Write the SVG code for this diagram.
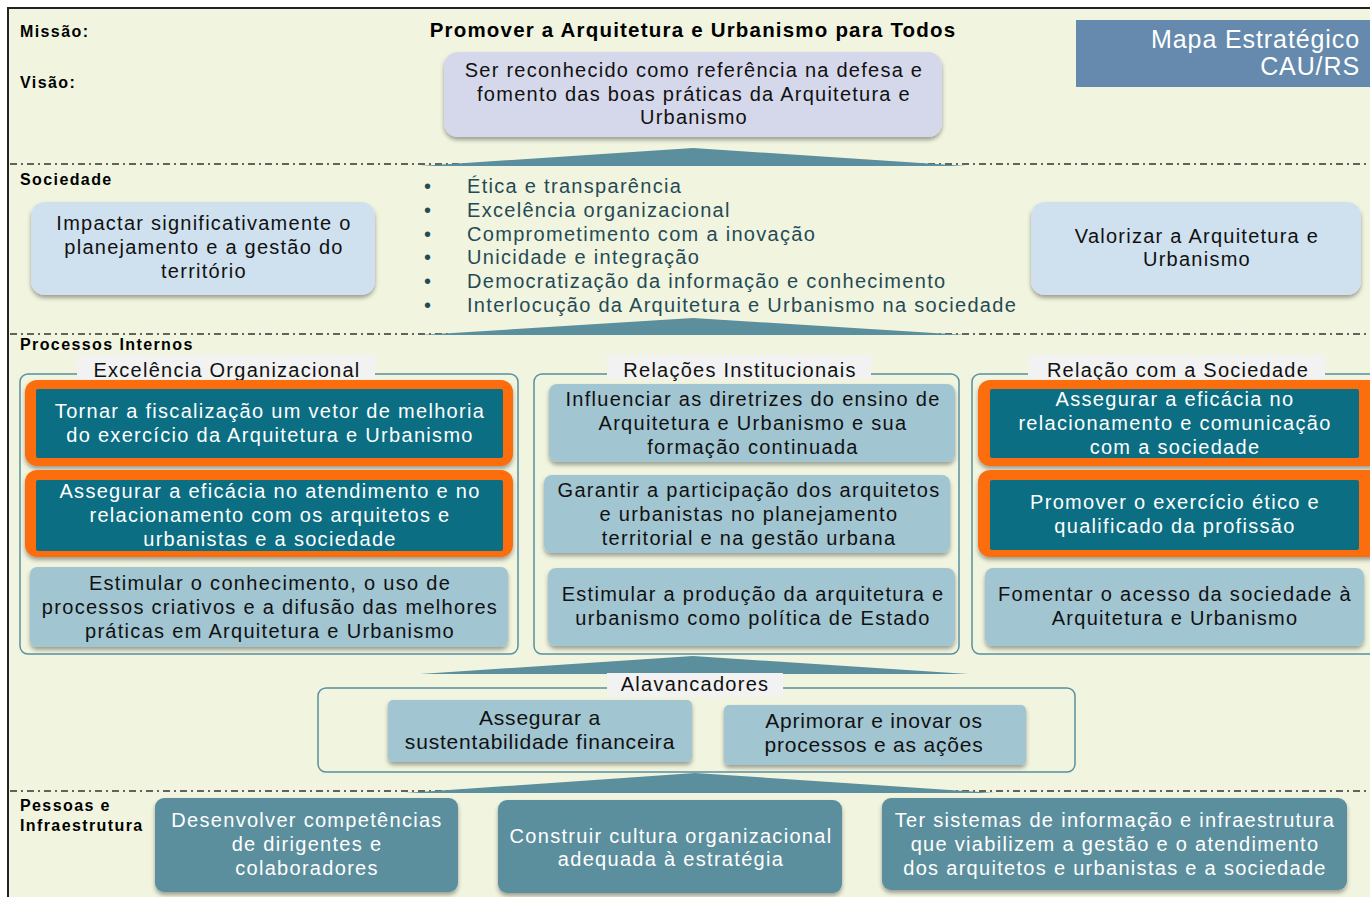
<svg xmlns="http://www.w3.org/2000/svg" width="1370" height="897" viewBox="0 0 1370 897">
<defs>
<filter id="sh" x="-10%" y="-20%" width="120%" height="150%">
<feDropShadow dx="0" dy="3" stdDeviation="2" flood-color="#000" flood-opacity="0.35"/>
</filter>
<style>
text{font-family:"Liberation Sans",Arial,sans-serif;}
.lbl{font-size:16px;font-weight:bold;fill:#000;letter-spacing:1.4px;}
.t{font-size:20px;fill:#111;text-anchor:middle;letter-spacing:1.25px;}
.tw{font-size:20px;fill:#fff;text-anchor:middle;letter-spacing:1.3px;}
.tb{font-size:20px;fill:#111;text-anchor:middle;letter-spacing:1.3px;}
.ta{font-size:21px;fill:#111;text-anchor:middle;letter-spacing:0.8px;}
.bul{font-size:20px;fill:#264a55;letter-spacing:1.3px;}
.sep{stroke:#333;stroke-width:1.6;stroke-dasharray:7 4 2 4;fill:none;}
.frame{fill:none;stroke:#5a8f9f;stroke-width:1.5;}
.tag{fill:#f2f2f2;}
.light{fill:#a1c5d1;}
.sky{fill:#cfe0ef;}
.orange{fill:#fb6d0c;}
.dark{fill:#0b6e83;}
.mid{fill:#5b8f9e;}
.tri{fill:#5b8f9e;}
</style>
</defs>
<rect x="0" y="0" width="1370" height="897" fill="#fff"/>
<rect x="8" y="8" width="1362" height="889" fill="#f1f5df"/>
<path d="M8 897 V8 H1370" fill="none" stroke="#222" stroke-width="2"/>

<g id="separators">
<line class="sep" x1="10" y1="164" x2="1370" y2="164"/>
<line class="sep" x1="10" y1="334" x2="1370" y2="334"/>
<line class="sep" x1="10" y1="791" x2="1370" y2="791"/>
</g>

<g id="connectors">
<polygon class="tri" points="420,166 693,148 966,166"/>
<polygon class="tri" points="420,335 693,318 966,335"/>
<polygon class="tri" points="420,674 693,656 968,674"/>
<polygon class="tri" points="405,793 695,773 995,793"/>
</g>

<g id="labels">
<text class="lbl" x="20" y="37">Missão:</text>
<text class="lbl" x="20" y="88">Visão:</text>
<text class="lbl" x="20" y="185">Sociedade</text>
<text class="lbl" x="20" y="350">Processos Internos</text>
<text class="lbl" x="20" y="811">Pessoas e</text>
<text class="lbl" x="20" y="831">Infraestrutura</text>
</g>

<g id="missao">
<text x="693" y="37" style="font-size:20.5px;font-weight:bold;text-anchor:middle;fill:#000;letter-spacing:1.2px">Promover a Arquitetura e Urbanismo para Todos</text>
</g>

<g id="titulo">
<rect x="1076" y="20" width="294" height="67" fill="#658aad"/>
<text x="1360" y="48" style="font-size:25px;fill:#fff;text-anchor:end;letter-spacing:0.9px">Mapa Estratégico</text>
<text x="1360" y="75" style="font-size:25px;fill:#fff;text-anchor:end;letter-spacing:0.9px">CAU/RS</text>
</g>

<g id="visao">
<rect x="444" y="52" width="498" height="85" rx="14" fill="#d5d8ea" filter="url(#sh)"/>
<text class="t" x="694" y="77">Ser reconhecido como referência na defesa e</text>
<text class="t" x="694" y="101">fomento das boas práticas da Arquitetura e</text>
<text class="t" x="694" y="124">Urbanismo</text>
</g>

<g id="impactar">
<rect x="31" y="202" width="344" height="93" rx="14" class="sky" filter="url(#sh)"/>
<text class="t" x="204" y="230">Impactar significativamente o</text>
<text class="t" x="204" y="254">planejamento e a gestão do</text>
<text class="t" x="204" y="278">território</text>
</g>

<g id="valores">
<text class="bul" x="424" y="193">•</text><text class="bul" x="467" y="193">Ética e transparência</text>
<text class="bul" x="424" y="217">•</text><text class="bul" x="467" y="217">Excelência organizacional</text>
<text class="bul" x="424" y="241">•</text><text class="bul" x="467" y="241">Comprometimento com a inovação</text>
<text class="bul" x="424" y="264">•</text><text class="bul" x="467" y="264">Unicidade e integração</text>
<text class="bul" x="424" y="288">•</text><text class="bul" x="467" y="288">Democratização da informação e conhecimento</text>
<text class="bul" x="424" y="312">•</text><text class="bul" x="467" y="312">Interlocução da Arquitetura e Urbanismo na sociedade</text>
</g>

<g id="valorizar">
<rect x="1031" y="202" width="330" height="93" rx="14" class="sky" filter="url(#sh)"/>
<text class="t" x="1197" y="243">Valorizar a Arquitetura e</text>
<text class="t" x="1197" y="266">Urbanismo</text>
</g>

<g id="excelencia">
<rect class="frame" x="20" y="374" width="498" height="280" rx="8"/>
<rect class="tag" x="77" y="355" width="298" height="24"/>
<text class="t" x="227" y="377">Excelência Organizacional</text>
</g>
<g id="fiscalizacao">
<rect class="orange" x="25" y="380" width="488" height="86" rx="12" filter="url(#sh)"/>
<rect class="dark" x="36" y="389" width="467" height="69" rx="2"/>
<text class="tw" x="270" y="418">Tornar a fiscalização um vetor de melhoria</text>
<text class="tw" x="270" y="442">do exercício da Arquitetura e Urbanismo</text>
</g>
<g id="atendimento">
<rect class="orange" x="25" y="470" width="488" height="87" rx="12" filter="url(#sh)"/>
<rect class="dark" x="36" y="480" width="467" height="71" rx="2"/>
<text class="tw" x="270" y="498">Assegurar a eficácia no atendimento e no</text>
<text class="tw" x="270" y="522">relacionamento com os arquitetos e</text>
<text class="tw" x="270" y="546">urbanistas e a sociedade</text>
</g>
<g id="conhecimento">
<rect class="light" x="30" y="567" width="478" height="80" rx="7" filter="url(#sh)"/>
<text class="tb" x="270" y="590">Estimular o conhecimento, o uso de</text>
<text class="tb" x="270" y="614">processos criativos e a difusão das melhores</text>
<text class="tb" x="270" y="638">práticas em Arquitetura e Urbanismo</text>
</g>

<g id="relacoes">
<rect class="frame" x="534" y="374" width="425" height="280" rx="8"/>
<rect class="tag" x="607" y="355" width="264" height="24"/>
<text class="t" x="740" y="377">Relações Institucionais</text>
</g>
<g id="ensino">
<rect class="light" x="549" y="384" width="406" height="78" rx="8" filter="url(#sh)"/>
<text class="tb" x="753" y="406">Influenciar as diretrizes do ensino de</text>
<text class="tb" x="753" y="430">Arquitetura e Urbanismo e sua</text>
<text class="tb" x="753" y="454">formação continuada</text>
</g>
<g id="participacao">
<rect class="light" x="544" y="475" width="406" height="78" rx="8" filter="url(#sh)"/>
<text class="tb" x="749" y="497">Garantir a participação dos arquitetos</text>
<text class="tb" x="749" y="521">e urbanistas no planejamento</text>
<text class="tb" x="749" y="545">territorial e na gestão urbana</text>
</g>
<g id="producao">
<rect class="light" x="548" y="568" width="407" height="78" rx="8" filter="url(#sh)"/>
<text class="tb" x="753" y="601">Estimular a produção da arquitetura e</text>
<text class="tb" x="753" y="625">urbanismo como política de Estado</text>
</g>

<g id="sociedade-grupo">
<rect class="frame" x="972" y="374" width="410" height="280" rx="8"/>
<rect class="tag" x="1028" y="355" width="297" height="24"/>
<text class="t" x="1178" y="377">Relação com a Sociedade</text>
</g>
<g id="comunicacao">
<rect class="orange" x="978" y="380" width="404" height="86" rx="12" filter="url(#sh)"/>
<rect class="dark" x="990" y="389" width="369" height="69" rx="2"/>
<text class="tw" x="1175" y="406">Assegurar a eficácia no</text>
<text class="tw" x="1175" y="430">relacionamento e comunicação</text>
<text class="tw" x="1175" y="454">com a sociedade</text>
</g>
<g id="etico">
<rect class="orange" x="978" y="470" width="404" height="87" rx="12" filter="url(#sh)"/>
<rect class="dark" x="990" y="480" width="369" height="70" rx="2"/>
<text class="tw" x="1175" y="509">Promover o exercício ético e</text>
<text class="tw" x="1175" y="533">qualificado da profissão</text>
</g>
<g id="acesso">
<rect class="light" x="985" y="568" width="379" height="78" rx="8" filter="url(#sh)"/>
<text class="tb" x="1175" y="601">Fomentar o acesso da sociedade à</text>
<text class="tb" x="1175" y="625">Arquitetura e Urbanismo</text>
</g>

<g id="alavancadores">
<rect class="frame" x="318" y="688" width="757" height="84" rx="8"/>
<rect class="tag" x="607" y="673" width="176" height="24"/>
<text class="t" x="695" y="691">Alavancadores</text>
</g>
<g id="sustentabilidade">
<rect class="light" x="388" y="700" width="304" height="62" rx="5" filter="url(#sh)"/>
<text class="ta" x="540" y="725">Assegurar a</text>
<text class="ta" x="540" y="749">sustentabilidade financeira</text>
</g>
<g id="aprimorar">
<rect class="light" x="724" y="705" width="302" height="60" rx="5" filter="url(#sh)"/>
<text class="ta" x="874" y="728">Aprimorar e inovar os</text>
<text class="ta" x="874" y="752">processos e as ações</text>
</g>

<g id="competencias">
<rect class="mid" x="155" y="798" width="303" height="94" rx="9" filter="url(#sh)"/>
<text class="tw" x="307" y="827">Desenvolver competências</text>
<text class="tw" x="307" y="851">de dirigentes e</text>
<text class="tw" x="307" y="875">colaboradores</text>
</g>
<g id="cultura">
<rect class="mid" x="498" y="800" width="344" height="93" rx="9" filter="url(#sh)"/>
<text class="tw" x="671" y="843">Construir cultura organizacional</text>
<text class="tw" x="671" y="866">adequada à estratégia</text>
</g>
<g id="sistemas">
<rect class="mid" x="882" y="798" width="465" height="92" rx="9" filter="url(#sh)"/>
<text class="tw" x="1115" y="827">Ter sistemas de informação e infraestrutura</text>
<text class="tw" x="1115" y="851">que viabilizem a gestão e o atendimento</text>
<text class="tw" x="1115" y="875">dos arquitetos e urbanistas e a sociedade</text>
</g>
</svg>
